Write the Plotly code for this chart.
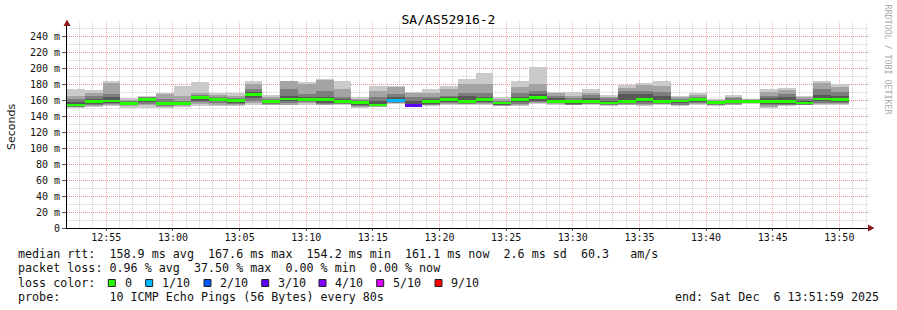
import pandas as pd
import plotly.graph_objects as go

# ---------------- data ----------------
step_start = "2025-12-06 12:52:03"
step_seconds = 80
n_steps = 44

# sorted ping rtts per step (ms): p1 (lowest) ... p10 (highest)
rtt_p10 = [174, 173, 184, 163, 166, 170, 178, 183, 169, 170, 185, 167, 185, 183, 187, 184, 164, 178, 178, 171, 174, 178,
           187, 195, 164, 184, 202, 171, 171, 174, 167, 179, 182, 184, 165.5, 169, 162, 167, 162, 174, 176, 166, 184, 181]
rtt_p9 = [166, 170, 182, 161, 165, 168, 166, 169, 167, 166, 181, 164, 184, 181, 186, 174, 162, 172, 177, 170, 170, 174,
          181, 181, 162, 177, 181, 169, 166, 170, 165, 176, 180, 178, 164, 167, 161, 165, 161.5, 171, 173, 164, 182, 177]
rtt_p8 = [162, 166, 168, 159, 164, 162, 160, 167, 164, 163, 175, 162, 174, 168, 172, 165, 161, 164, 168, 165, 165, 166,
          170, 170, 160, 170, 172, 166, 163, 167, 163, 172, 172, 171, 162, 165, 160, 163, 161, 166, 168, 162, 174, 171]
rtt_p7 = [158, 162, 165, 158, 163, 158, 158, 166, 163, 162, 171, 161, 166, 164, 165, 162, 160, 160, 164, 160, 162, 164,
          166, 165, 158, 164, 168, 163, 161, 163, 160, 168, 168, 166, 160, 163, 159, 161, 160, 163, 164, 160, 167, 166]
rtt_p4 = [153, 156, 157, 155, 158, 154, 155, 160, 159, 157, 163, 157, 159, 159, 157, 157, 155, 154, 158, 153.5, 156, 158,
          157, 158, 155, 158, 160, 158, 156, 157, 155.5, 157, 158, 157, 157, 158, 156, 157, 158, 156, 156, 156, 159, 158]
rtt_p3 = [152.5, 154.5, 155.5, 154, 156, 153, 154, 158, 157, 156, 160, 156, 157, 158, 155.5, 156, 153, 153, 157, 153, 155,
          157, 156, 157, 154, 156, 158, 157, 155, 156, 155, 156, 156, 156, 155, 157, 155, 156, 157.5, 154, 155, 155, 157, 157]
rtt_p2 = [152, 153.5, 154, 153, 154, 152, 153, 156, 155, 154, 157, 155, 155, 157, 155, 155.5, 152, 152.5, 156.5, 152.5, 154,
          156, 155.5, 156, 153.5, 155, 157, 156, 154, 155.5, 154, 155, 154, 155.5, 154, 156, 154, 155, 157, 152, 154, 154, 156, 156]
rtt_p1 = [151, 152, 153, 151, 151, 151, 152, 153, 153, 153, 155, 154, 154, 155, 154, 155, 151, 152, 156, 152, 153, 155,
          155, 155, 153, 153, 156, 155, 154, 155, 153, 154, 153, 155, 153, 155, 153, 154, 156, 151, 153, 154, 155, 155]

median_rtt = [154.5, 158.5, 159.5, 156.5, 161, 156, 156, 164, 161.5, 160, 167.6, 159, 162, 161.5, 161, 158.5, 157.5, 154.5,
              160, 154.2, 158.5, 161.5, 159, 161, 157, 161, 163.5, 159, 158.5, 158.5, 157, 159, 161.5, 159, 159.5, 161,
              157.5, 158.5, 159, 159, 159, 157, 162, 161.1]

loss_fraction = [0] * 18 + [0.1, 0.375] + [0] * 24

loss_levels = [0, 0.1, 0.2, 0.3, 0.4, 0.5, 0.9]
loss_labels = ["0", "1/10", "2/10", "3/10", "4/10", "5/10", "9/10"]
loss_colors = ["#26ff00", "#00b8ff", "#0059ff", "#5e00ff", "#7e00ff", "#dd00ff", "#ff0000"]

y_tick_vals = [0, 20, 40, 60, 80, 100, 120, 140, 160, 180, 200, 220, 240]
y_tick_text = ["0"] + [f"{v} m" for v in y_tick_vals[1:]]

title_text = "SA/AS52916-2"
stat_lines = [
    "median rtt:  158.9 ms avg  167.6 ms max  154.2 ms min  161.1 ms now  2.6 ms sd  60.3   am/s",
    "packet loss: 0.96 % avg  37.50 % max  0.00 % min  0.00 % now",
    "loss color:",
    "probe:       10 ICMP Echo Pings (56 Bytes) every 80s",
]
end_text = "end: Sat Dec  6 13:51:59 2025"

# ---------------- figure ----------------
W, H = 897, 310
ML, MR, MT, MB = 67, 29, 22, 82
PW, PH = W - ML - MR, H - MT - MB

times = pd.date_range(step_start, periods=n_steps, freq=f"{step_seconds}s")
width_ms = step_seconds * 1000

fig = go.Figure()

def band(lo, hi, color):
    fig.add_trace(go.Bar(
        x=times, base=lo, y=[h - l for l, h in zip(lo, hi)],
        width=width_ms, offset=0, marker=dict(color=color, line=dict(width=0)),
        hoverinfo="skip", showlegend=False))

p5 = [m - 0.8 for m in median_rtt]
p6 = [m + 0.8 for m in median_rtt]
band(rtt_p1, rtt_p10, "#cacaca")
band(rtt_p2, rtt_p9, "#a4a4a4")
band(rtt_p3, rtt_p8, "#7e7e7e")
band(rtt_p4, rtt_p7, "#585858")
band(p5, p6, "#323232")


def loss_color(f):
    c = loss_colors[0]
    for lvl, col in zip(loss_levels, loss_colors):
        if f >= lvl - 1e-9:
            c = col
    return c

med_half = 1.7
fig.add_trace(go.Bar(
    x=times, base=[m - med_half for m in median_rtt], y=[2 * med_half] * n_steps,
    width=width_ms, offset=0,
    marker=dict(color=[loss_color(f) for f in loss_fraction], line=dict(width=0)),
    hoverinfo="skip", showlegend=False))

x_end = pd.Timestamp(step_start) + pd.Timedelta(seconds=3606)
y_top = PH / (228 - 36.8) * 240

mono = "DejaVu Sans Mono"
grid_minor = "rgba(150,150,150,0.45)"
grid_major = "rgba(230,90,90,0.5)"

fig.update_layout(
    width=W, height=H,
    margin=dict(l=ML, r=MR, t=MT, b=MB),
    paper_bgcolor="white", plot_bgcolor="white",
    barmode="overlay", bargap=0,
    showlegend=False,
    title=dict(text=title_text, x=0.5, xanchor="center", y=1 - 19.5 / H, yanchor="middle",
               yref="container", font=dict(family=mono, size=13, color="#000", weight="normal")),
    xaxis=dict(
        type="date", range=[pd.Timestamp(step_start), x_end],
        tickmode="linear", tick0="2025-12-06 12:55:00", dtick=300000, tickformat="%H:%M",
        showgrid=True, gridcolor=grid_major, griddash="1px,1px", gridwidth=1,
        minor=dict(tickmode="linear", tick0="2025-12-06 12:55:00", dtick=60000, showgrid=True,
                   gridcolor=grid_minor, griddash="1px,1px", gridwidth=1),
        showline=True, linecolor="#000", linewidth=1, zeroline=False,
        ticks="outside", ticklen=2, tickcolor="#555", ticklabelstandoff=-2,
        tickfont=dict(family=mono, size=10, color="#111"),
    ),
    yaxis=dict(
        range=[0, y_top],
        tickmode="array", tickvals=y_tick_vals, ticktext=y_tick_text,
        showgrid=True, gridcolor=grid_major, griddash="1px,1px", gridwidth=1,
        minor=dict(tickmode="linear", tick0=0, dtick=10, showgrid=True,
                   gridcolor=grid_minor, griddash="1px,1px", gridwidth=1),
        showline=True, linecolor="#000", linewidth=1, zeroline=False,
        ticks="outside", ticklen=4, tickcolor="#555",
        tickfont=dict(family=mono, size=10, color="#111"),
    ),
)


def px_x(px):
    return (px - ML) / PW


def px_y(py):
    return (MT + PH - py) / PH

ann = []
# axis title
ann.append(dict(text="Seconds", x=px_x(11), y=px_y(127), xref="paper", yref="paper", textangle=-90,
                xanchor="center", yanchor="middle",
                showarrow=False, font=dict(family="DejaVu Sans", size=11, color="#111")))
# watermark
ann.append(dict(text="RRDTOOL / TOBI OETIKER", x=px_x(888), y=px_y(59.5), xref="paper", yref="paper", textangle=90,
                xanchor="center", yanchor="middle",
                showarrow=False, font=dict(family=mono, size=8.3, color="#aaaaaa")))
# stats lines
line_y = [254.3, 268.3, 282.5, 296.5]
for txt, ly in zip(stat_lines, line_y):
    ann.append(dict(text=txt.replace(" ", "\u00a0"), x=px_x(16), y=px_y(ly), xref="paper", yref="paper",
                    xanchor="left", yanchor="middle", showarrow=False,
                    font=dict(family=mono, size=11.7, color="#111")))
ann.append(dict(text=end_text.replace(" ", "\u00a0"), x=px_x(881), y=px_y(296.5), xref="paper", yref="paper",
                xanchor="right", yanchor="middle", showarrow=False,
                font=dict(family=mono, size=11.7, color="#111")))

# loss colour legend
sq_x = [108.3, 145.7, 204, 261.7, 319, 376.7, 435]
lab_x = [123, 160, 218, 276, 333, 391, 449]
shapes = []
for sx, lx, lab, col in zip(sq_x, lab_x, loss_labels, loss_colors):
    shapes.append(dict(type="rect", xref="paper", yref="paper",
                       x0=px_x(sx), x1=px_x(sx + 7), y0=px_y(286.5), y1=px_y(279.5),
                       fillcolor=col, line=dict(color="#222", width=1)))
    ann.append(dict(text=lab, x=px_x(lx), y=px_y(282.5), xref="paper", yref="paper",
                    xanchor="left", yanchor="middle", showarrow=False,
                    font=dict(family=mono, size=11.7, color="#111")))

# axis arrows
shapes.append(dict(type="path", xref="paper", yref="paper", fillcolor="#8b1a1a", line=dict(width=0),
                   path=f"M {px_x(63.5)} {px_y(26)} L {px_x(70.5)} {px_y(26)} L {px_x(67)} {px_y(19.5)} Z"))
shapes.append(dict(type="path", xref="paper", yref="paper", fillcolor="#8b1a1a", line=dict(width=0),
                   path=f"M {px_x(868)} {px_y(224.5)} L {px_x(868)} {px_y(231.5)} L {px_x(874.5)} {px_y(228)} Z"))

fig.update_layout(annotations=ann, shapes=shapes)
fig.write_html("out.html")
